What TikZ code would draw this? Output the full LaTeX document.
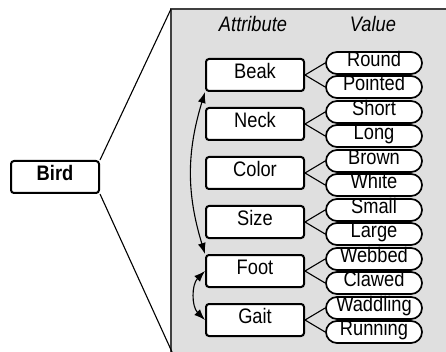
\documentclass[tikz,border=0pt]{standalone}
\usepackage{fontspec}
\setmainfont{Liberation Sans}[FakeStretch=0.87]
\usetikzlibrary{arrows.meta}

\begin{document}
\begin{tikzpicture}[x=1pt,y=-1pt,
		txt/.style={font=\fontsize{21}{23}\selectfont, text height=0.72em, text depth=0pt, inner sep=0pt},
		attr/.style={txt, draw, line width=2pt, fill=white, rounded corners=3pt, minimum width=98pt, minimum height=32pt},
		val/.style={txt, draw, line width=1.7pt, fill=white, rounded corners=11pt, minimum width=96pt, minimum height=22pt},
		link/.style={line width=1.1pt},
		rel/.style={line width=1.1pt, {Latex[length=11pt,width=8pt]}-{Latex[length=11pt,width=8pt]}}]

		\useasboundingbox (0,0) rectangle (446,352);
		\fill[gray!25] (171,9) rectangle (446,352);
		\draw[line width=1.5pt, black!75] (171,352) -- (171,9) -- (446,9);

		\node[attr, font=\fontsize{21}{23}\selectfont\bfseries, minimum width=88pt] (bird) at (55,177) {Bird};
		\coordinate (ptop) at (171,9);
		\coordinate (pbot) at (172,352);
		\draw[link] (bird.north east) -- (ptop);
		\draw[link] (bird.south east) -- (pbot);

		\node[txt, font=\fontsize{21}{23}\selectfont\itshape] (hattr) at (253,28) {Attribute};
		\node[txt, font=\fontsize{21}{23}\selectfont\itshape] (hval) at (373,28) {Value};

		\node[attr] (beak) at (255,75) {Beak};
		\node[val] (round) at (374,63) {Round};
		\node[val] (pointed) at (374,87) {Pointed};
		\draw[link] (beak.east) -- (round.west);
		\draw[link] (beak.east) -- (pointed.west);

		\node[attr] (neck) at (255,124) {Neck};
		\node[val] (short) at (374,112) {Short};
		\node[val] (long) at (374,136) {Long};
		\draw[link] (neck.east) -- (short.west);
		\draw[link] (neck.east) -- (long.west);

		\node[attr] (color) at (255,173) {Color};
		\node[val] (brown) at (374,161) {Brown};
		\node[val] (white) at (374,185) {White};
		\draw[link] (color.east) -- (brown.west);
		\draw[link] (color.east) -- (white.west);

		\node[attr] (size) at (255,222) {Size};
		\node[val] (small) at (374,210) {Small};
		\node[val] (large) at (374,234) {Large};
		\draw[link] (size.east) -- (small.west);
		\draw[link] (size.east) -- (large.west);

		\node[attr] (foot) at (255,271) {Foot};
		\node[val] (webbed) at (374,259) {Webbed};
		\node[val] (clawed) at (374,283) {Clawed};
		\draw[link] (foot.east) -- (webbed.west);
		\draw[link] (foot.east) -- (clawed.west);

		\node[attr] (gait) at (255,320) {Gait};
		\node[val] (waddling) at (374,308) {Waddling};
		\node[val] (running) at (374,332) {Running};
		\draw[link] (gait.east) -- (waddling.west);
		\draw[link] (gait.east) -- (running.west);

		\draw[rel] (beak.south west) to[bend right=17] (foot.north west);
		\draw[rel] (foot.west) to[bend right=45] (gait.west);

	\end{tikzpicture}
\end{document}
